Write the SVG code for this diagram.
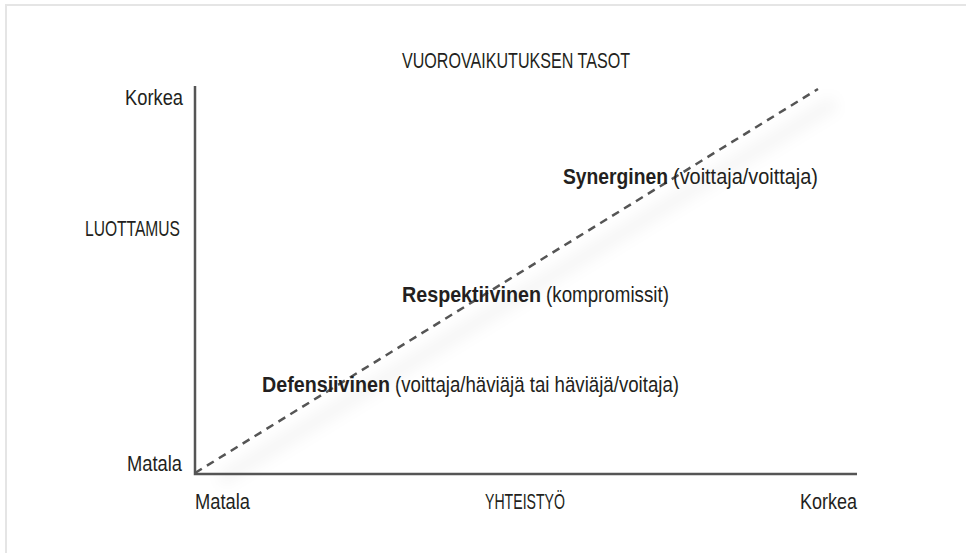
<svg xmlns="http://www.w3.org/2000/svg" width="966" height="553" viewBox="0 0 966 553">
  <defs>
    <filter id="soft" x="-20%" y="-20%" width="140%" height="140%">
      <feGaussianBlur stdDeviation="7"/>
    </filter>
  </defs>
  <style>
    .lbl { font-family: "Liberation Sans", Arial, sans-serif; font-size: 22px; fill: #231f20; }
    .b { font-weight: bold; }
    .axis { stroke: #555; stroke-width: 2.5; fill: none; }
    .trend { stroke: #555; stroke-width: 2.5; stroke-dasharray: 8 6; fill: none; }
    .haze { stroke: #000; stroke-opacity: 0.035; stroke-width: 16; fill: none; filter: url(#soft); }
    .frame { stroke: #e5e5e5; stroke-width: 2; fill: none; }
  </style>

  <rect width="966" height="553" fill="#fff"/>
  <path class="frame" d="M6,553 V5 H966"/>

  <!-- soft shading beside the axes and the trend line -->
  <g id="shading">
    <line class="haze" x1="212" y1="100" x2="212" y2="470"/>
    <line class="haze" x1="205" y1="490" x2="875" y2="490"/>
    <line class="haze" x1="220" y1="480" x2="835" y2="102"/>
  </g>

  <text class="lbl" x="402" y="68" textLength="228" lengthAdjust="spacingAndGlyphs">VUOROVAIKUTUKSEN TASOT</text>

  <g id="connectors">
    <path id="axes" class="axis" d="M195,86 V474 H857"/>
    <line id="trend-line" class="trend" x1="195" y1="473" x2="818" y2="89"/>
  </g>

  <g id="y-axis-labels">
    <text class="lbl" x="125" y="105" textLength="58" lengthAdjust="spacingAndGlyphs">Korkea</text>
    <text class="lbl" x="85" y="236" textLength="95" lengthAdjust="spacingAndGlyphs">LUOTTAMUS</text>
    <text class="lbl" x="127" y="471" textLength="55" lengthAdjust="spacingAndGlyphs">Matala</text>
  </g>

  <g id="x-axis-labels">
    <text class="lbl" x="195" y="509" textLength="55" lengthAdjust="spacingAndGlyphs">Matala</text>
    <text class="lbl" x="485" y="509" textLength="80" lengthAdjust="spacingAndGlyphs">YHTEISTYÖ</text>
    <text class="lbl" x="800" y="509" textLength="57" lengthAdjust="spacingAndGlyphs">Korkea</text>
  </g>

  <g id="level-synergic">
    <text class="lbl b" x="563" y="184" textLength="105" lengthAdjust="spacingAndGlyphs">Synerginen</text>
    <text class="lbl" x="673" y="184" textLength="145" lengthAdjust="spacingAndGlyphs">(voittaja/voittaja)</text>
  </g>
  <g id="level-respective">
    <text class="lbl b" x="402" y="302" textLength="139" lengthAdjust="spacingAndGlyphs">Respektiivinen</text>
    <text class="lbl" x="546" y="302" textLength="123" lengthAdjust="spacingAndGlyphs">(kompromissit)</text>
  </g>
  <g id="level-defensive">
    <text class="lbl b" x="262" y="392" textLength="128" lengthAdjust="spacingAndGlyphs">Defensiivinen</text>
    <text class="lbl" x="395" y="392" textLength="284" lengthAdjust="spacingAndGlyphs">(voittaja/häviäjä tai häviäjä/voitaja)</text>
  </g>
</svg>
